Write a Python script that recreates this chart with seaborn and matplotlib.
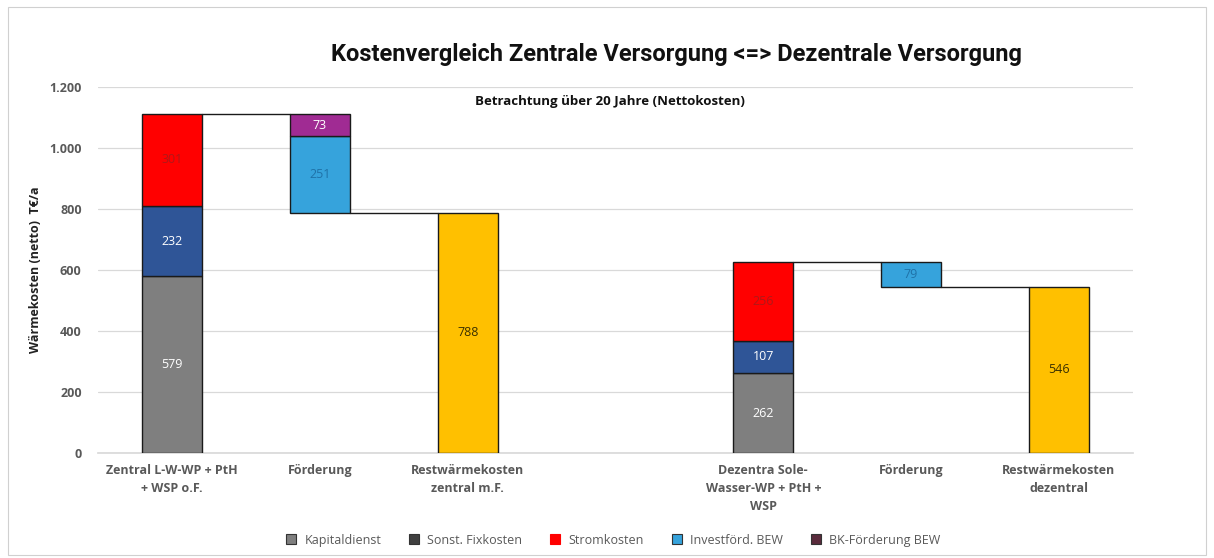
import matplotlib
matplotlib.use("Agg")
import matplotlib.pyplot as plt
from matplotlib import font_manager
from matplotlib.patches import Rectangle
from matplotlib.lines import Line2D
import seaborn as sns
import pandas as pd

# ---- data (T€/a, net, 20-year view) ----
slots = ["z_start", "z_foerd", "z_rest", "gap", "d_start", "d_foerd", "d_rest"]
tick_labels = ["Zentral L-W-WP + PtH\n+ WSP o.F.", "Förderung", "Restwärmekosten\nzentral m.F.", "",
               "Dezentra Sole-\nWasser-WP + PtH +\nWSP", "Förderung", "Restwärmekosten\ndezentral"]

kapitaldienst = [579, 262]
fixkosten = [232, 107]
stromkosten = [301, 256]
investfoerd = [251, 79]
bk_foerd = [73, 0]
restkosten = [788, 546]

legend_labels = ["Kapitaldienst", "Sonst. Fixkosten", "Stromkosten", "Investförd. BEW", "BK-Förderung BEW"]
yticks = [0, 200, 400, 600, 800, 1000, 1200]
ytick_labels = ["0", "200", "400", "600", "800", "1.000", "1.200"]

C_GRAY = "#7F7F7F"
C_DBLUE = "#2F5597"
C_RED = "#FF0000"
C_LBLUE = "#36A3DC"
C_PURPLE = "#A02B93"
C_YELLOW = "#FFC000"

sns.set_theme(style="white")
names = {f.name for f in font_manager.fontManager.ttflist}
base_font = "Open Sans" if "Open Sans" in names else "DejaVu Sans"
title_font = "Roboto" if "Roboto" in names else base_font
plt.rcParams["font.family"] = [base_font, "DejaVu Sans"]

fig = plt.figure(figsize=(12.14, 5.58), dpi=100)
ax = fig.add_axes([0.081, 0.188, 0.852, 0.656])

# build segment table: slot, height, bottom, colour, label colour
segments = []
groups = [("z_start", "z_foerd", "z_rest"), ("d_start", "d_foerd", "d_rest")]
connectors = []
for i, (s0, s1, s2) in enumerate(groups):
    b = 0
    for val, col, tc in [(kapitaldienst[i], C_GRAY, "white"),
                         (fixkosten[i], C_DBLUE, "white"),
                         (stromkosten[i], C_RED, "#B01818")]:
        segments.append((s0, val, b, col, tc))
        b += val
    total = b
    lower = total - bk_foerd[i] - investfoerd[i]
    segments.append((s1, investfoerd[i], lower, C_LBLUE, "#1F72A8"))
    if bk_foerd[i] > 0:
        segments.append((s1, bk_foerd[i], lower + investfoerd[i], C_PURPLE, "white"))
    segments.append((s2, restkosten[i], 0, C_YELLOW, "#3A3000"))
    connectors.append((slots.index(s0), slots.index(s1), total))
    connectors.append((slots.index(s1), slots.index(s2), restkosten[i]))

seg_df = pd.DataFrame(segments, columns=["slot", "value", "bottom", "color", "tcolor"])

bar_w = 0.405
for _, row in seg_df.iterrows():
    sns.barplot(data=pd.DataFrame({"slot": [row.slot], "value": [row.value]}),
                x="slot", y="value", order=slots, color=row.color, saturation=1,
                width=bar_w, bottom=row.bottom, edgecolor="#1a1a1a", linewidth=1.0,
                ax=ax, zorder=3)
    xi = slots.index(row.slot)
    ax.text(xi, row.bottom + row.value / 2, f"{row.value:d}", ha="center", va="center",
            fontsize=9, color=row.tcolor, zorder=5)

# connector lines between bars
for a, b_, yv in connectors:
    ax.plot([a + bar_w / 2, b_ - bar_w / 2], [yv, yv], color="#1a1a1a", lw=1.0, zorder=4)

ax.set_xlim(-0.5, 6.5)
ax.set_ylim(0, 1200)
ax.set_yticks(yticks)
ax.set_yticklabels(ytick_labels, fontsize=9, color="#595959", fontweight="bold")
ax.set_xticks(range(len(slots)))
ax.set_xticklabels(tick_labels, fontsize=9, color="#595959", fontweight="bold", linespacing=1.5)
ax.tick_params(axis="x", length=0, pad=8)
ax.tick_params(axis="y", length=0, pad=12)
ax.set_xlabel("")
ax.set_ylabel("Wärmekosten (netto)  T€/a", fontsize=9, fontweight="bold", color="#222222", labelpad=5)
ax.grid(axis="y", color="#D9D9D9", lw=0.9, zorder=0)
for sp in ["top", "right", "left"]:
    ax.spines[sp].set_visible(False)
ax.spines["bottom"].set_color("#D9D9D9")

fig.text(0.557, 0.903, "Kostenvergleich Zentrale Versorgung <=> Dezentrale Versorgung",
         ha="center", va="center", fontsize=17, fontweight="bold", color="#111111",
         family=[title_font, "DejaVu Sans"])
ax.text(0.495, 1151, "Betrachtung über 20 Jahre (Nettokosten)", ha="center", va="center",
        fontsize=9.5, fontweight="bold", color="#111111",
        transform=ax.get_yaxis_transform())

# legend
leg_colors = [C_GRAY, "#404040", C_RED, C_LBLUE, "#5A2B3C"]
handles = [Line2D([0], [0], marker="s", linestyle="none", markersize=6.5,
                  markerfacecolor=c, markeredgecolor="#333333" if c != C_RED else C_RED,
                  markeredgewidth=0.8) for c in leg_colors]
fig.legend(handles, legend_labels, loc="center", bbox_to_anchor=(0.502, 0.032), ncol=5,
           frameon=False, fontsize=9, handletextpad=0.1, columnspacing=1.6,
           labelcolor="#595959")

# outer chart frame
fig.patches.append(Rectangle((0.007, 0.005), 0.986, 0.982, transform=fig.transFigure,
                             fill=False, edgecolor="#D0D0D0", lw=0.8))

fig.savefig("out.png", dpi=100)
